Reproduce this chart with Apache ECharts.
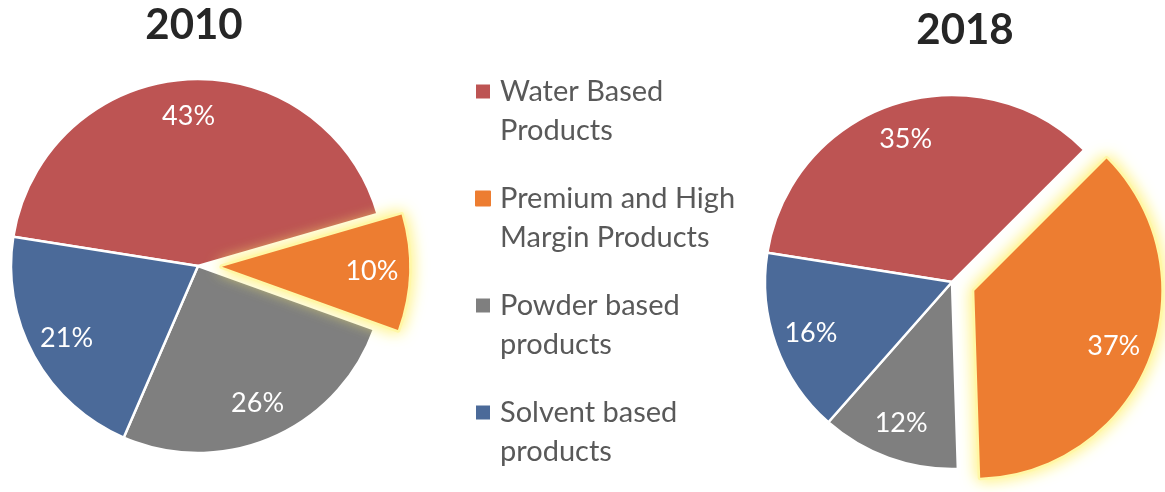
<!DOCTYPE html>
<html>
<head>
<meta charset="utf-8">
<script src="https://cdn.jsdelivr.net/npm/echarts@6/dist/echarts.min.js"></script>
<style>
  html, body { margin: 0; padding: 0; background: #ffffff; }
  #chart { width: 1165px; height: 492px; }
</style>
</head>
<body>
<div id="chart"></div>
<script>
// Product mix shares, in percent
const categories = [
  'Water Based Products',
  'Premium and High Margin Products',
  'Powder based products',
  'Solvent based products'
];
const legendLines = [
  'Water Based\nProducts',
  'Premium and High\nMargin Products',
  'Powder based\nproducts',
  'Solvent based\nproducts'
];
const years = ['2010', '2018'];
const share2010 = [43, 10, 26, 21];
const share2018 = [35, 37, 12, 16];
const highlighted = 'Premium and High Margin Products';

const colors = ['#BD5453', '#ED7D31', '#7F7F7F', '#4B6A99'];
const FONT = 'Lato, "Open Sans", sans-serif';
const R = 187;
const LABEL_R0 = 107;   // inner edge of the label ring, puts labels ~0.79 R out
const EXPLODE = 24;
const CLEAR = 'rgba(0,0,0,0)';

// layer: 'base' = all slices flat, 'glow' = highlighted slice with halo,
// 'cap' = highlighted slice flat again on top of its halo, 'label' = text only
function layerData(values, layer) {
  return categories.map((name, i) => {
    const hi = name === highlighted;
    let style;
    if (layer === 'base') {
      style = { color: colors[i] };
    } else if (layer === 'glow') {
      style = hi
        ? { color: colors[i], borderColor: '#FFF7A6', borderWidth: 5,
            shadowBlur: 16, shadowColor: 'rgba(255, 240, 110, 1)' }
        : { color: CLEAR, borderWidth: 0 };
    } else if (layer === 'cap') {
      style = hi ? { color: colors[i], borderWidth: 0 } : { color: CLEAR, borderWidth: 0 };
    } else {
      style = { color: CLEAR, borderWidth: 0 };
    }
    return { name, value: values[i], selected: hi, itemStyle: style, select: { itemStyle: style } };
  });
}

function layer(values, center, kind) {
  const s = {
    type: 'pie',
    center,
    radius: [kind === 'label' ? LABEL_R0 : 0, R],
    startAngle: 171,
    clockwise: true,
    selectedMode: 'single',
    selectedOffset: EXPLODE,
    avoidLabelOverlap: false,
    silent: true,
    emphasis: { disabled: true },
    itemStyle: kind === 'base' ? { borderColor: '#ffffff', borderWidth: 2.5 } : { borderWidth: 0 },
    label: { show: false },
    labelLine: { show: false },
    data: layerData(values, kind)
  };
  if (kind === 'label') {
    s.label = {
      show: true,
      position: 'inside',
      formatter: p => p.value + '%',
      color: '#ffffff',
      fontFamily: FONT,
      fontSize: 27,
      textBorderWidth: 0
    };
  }
  return s;
}

function pieSeries(values, center) {
  return ['base', 'glow', 'cap', 'label'].map(k => layer(values, center, k));
}

const chart = echarts.init(document.getElementById('chart'), null, { renderer: 'canvas' });

chart.setOption({
  animation: false,
  backgroundColor: '#ffffff',
  title: [
    {
      text: years[0], left: 194, top: 4, textAlign: 'center', padding: 0,
      textStyle: { fontFamily: FONT, fontWeight: 'bold', fontSize: 42, color: '#262626' }
    },
    {
      text: years[1], left: 965, top: 9, textAlign: 'center', padding: 0,
      textStyle: { fontFamily: FONT, fontWeight: 'bold', fontSize: 42, color: '#262626' }
    }
  ],
  legend: {
    orient: 'vertical',
    left: 475,
    top: 33,
    padding: 0,
    itemWidth: 14,
    itemHeight: 14,
    itemGap: -10,
    selectedMode: false,
    icon: 'rect',
    data: categories.map((name, i) => ({
      name,
      itemStyle: name === highlighted
        ? { color: colors[i], borderColor: colors[i], borderWidth: 2, shadowBlur: 0 }
        : { color: colors[i], borderWidth: 0, shadowBlur: 0 }
    })),
    // a blank leading line keeps the key square level with the first text line
    formatter: name => '\n' + legendLines[categories.indexOf(name)],
    textStyle: {
      fontFamily: FONT,
      fontSize: 29,
      lineHeight: 39,
      color: '#595959',
      padding: [0, 0, 0, 5]
    }
  },
  series: [
    ...pieSeries(share2010, [198, 266]),
    ...pieSeries(share2018, [952, 282])
  ]
});
</script>
</body>
</html>
